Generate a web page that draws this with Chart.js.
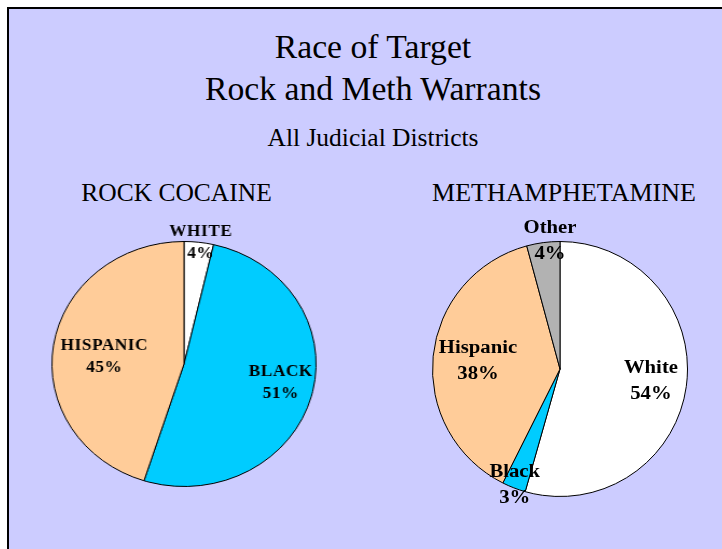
<!DOCTYPE html>
<html>
<head>
<meta charset="utf-8">
<script src="https://cdn.jsdelivr.net/npm/chart.js@4/dist/chart.umd.min.js"></script>
<style>
  body { margin: 0; background: #fff; width: 722px; height: 549px; overflow: hidden; position: relative; }
  #panel { position: absolute; left: 7px; top: 7px; width: 800px; height: 600px; background: #ccccff; border: 2px solid #000; }
  .txt { position: absolute; white-space: nowrap; font-family: "Liberation Serif", "Times New Roman", serif; color: #000; line-height: 1; }
  canvas { position: absolute; }
</style>
</head>
<body>
<div id="panel"></div>
<div class="txt" id="t1" style="font-size:33px;">Race of Target</div>
<div class="txt" id="t2" style="font-size:33px;">Rock and Meth Warrants</div>
<div class="txt" id="t3" style="font-size:25.5px;">All Judicial Districts</div>
<div class="txt" id="h1" style="font-size:25.5px;">ROCK COCAINE</div>
<div class="txt" id="h2" style="font-size:25.5px;">METHAMPHETAMINE</div>
<canvas id="rock" width="300" height="300" style="left:34px; top:214px; transform:scaleX(1.078); transform-origin:150px 150px;"></canvas>
<canvas id="meth" width="320" height="320" style="left:400px; top:209px;"></canvas>
<script>
// data
const rockLabels = ['WHITE', 'BLACK', 'HISPANIC'];
const rockValues = [3.6, 51.3, 45.1];
const rockColors = ['#ffffff', '#00ccff', '#ffcc99'];

const methLabels = ['White', 'Black', 'Hispanic', 'Other'];
const methValues = [54.4, 3.0, 38.4, 4.2];
const methColors = ['#ffffff', '#00ccff', '#ffcc99', '#b2b2b2'];

// place html text: centre x, baseline y, horizontal stretch
function placeText(id, cx, base, stretch) {
  let el = document.getElementById(id);
  let fs = parseFloat(el.style.fontSize);
  el.style.left = cx + 'px';
  el.style.top = (base - 0.8375 * fs) + 'px';
  el.style.transform = 'translateX(-50%) scaleX(' + stretch + ')';
}
placeText('t1', 372.5, 59, 1.02);
placeText('t2', 372.5, 101, 1.02);
placeText('t3', 373, 146, 1);
placeText('h1', 176.5, 201.5, 1);
placeText('h2', 564, 201.5, 1.02);

function makeLabels(cfg) { // draws "name / nn%" on each slice
  return {
    id: 'pieLabels',
    afterDatasetsDraw(chart) {
      let ctx = chart.ctx;
      let meta = chart.getDatasetMeta(0);
      let vals = chart.data.datasets[0].data;
      ctx.save();
      ctx.fillStyle = '#000';
      ctx.font = cfg.font;
      ctx.textAlign = 'center';
      ctx.textBaseline = 'middle';
      ctx.letterSpacing = cfg.spacing + 'px';
      meta.data.forEach((arc, i) => {
        let p = arc.getProps(['x', 'y', 'startAngle', 'endAngle', 'outerRadius']);
        let mid = (p.startAngle + p.endAngle) / 2 + cfg.turn[i] * Math.PI / 180;
        let r = p.outerRadius * cfg.radius[i];
        let x = p.x + Math.cos(mid) * r;
        let y = p.y + Math.sin(mid) * r;
        ctx.save();
        ctx.translate(x + cfg.spacing / 2, y);
        ctx.scale(cfg.stretch, 1);
        ctx.fillText(chart.data.labels[i], 0, -cfg.lineHeight / 2);
        ctx.fillText(Math.round(vals[i]) + '%', 0, cfg.lineHeight / 2);
        ctx.restore();
      });
      ctx.restore();
    }
  };
}

function pie(id, labels, values, colors, pad, lbl) {
  return new Chart(document.getElementById(id), {
    type: 'pie',
    data: {
      labels: labels,
      datasets: [{ data: values, backgroundColor: colors, borderColor: '#000', borderWidth: 1 }]
    },
    options: {
      responsive: false,
      animation: false,
      devicePixelRatio: 1,
      events: [],
      layout: { padding: pad },
      plugins: { legend: { display: false }, tooltip: { enabled: false } }
    },
    plugins: [makeLabels(lbl)]
  });
}

pie('rock', rockLabels, rockValues, rockColors, 27, {
  font: 'bold 16px "Liberation Serif"', spacing: 0.5, stretch: 1, lineHeight: 22,
  radius: [1.0, 0.747, 0.608], turn: [0.7, -3.3, -3.4]
});
pie('meth', methLabels, methValues, methColors, 32, {
  font: 'bold 18.5px "Liberation Serif"', spacing: 0, stretch: 1.12, lineHeight: 26,
  radius: [0.72, 0.98, 0.646, 1.007], turn: [0, 0, -0.3, 3.1]
});
</script>
</body>
</html>
